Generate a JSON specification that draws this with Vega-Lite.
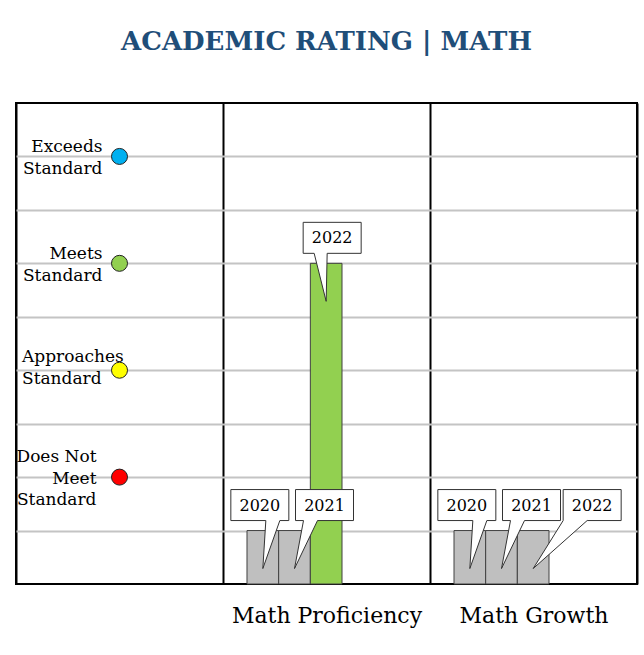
{
  "$schema": "https://vega.github.io/schema/vega-lite/v6.json",
  "width": 621,
  "height": 481,
  "autosize": "none",
  "padding": {"left": 16, "top": 103, "right": 7, "bottom": 71},
  "background": "white",
  "title": {"text": "ACADEMIC RATING | MATH", "font": "DejaVu Serif", "fontSize": 26, "fontWeight": "bold", "color": "#1f4e79", "anchor": "middle", "offset": 48},
  "config": {"view": {"stroke": "#000", "strokeWidth": 2}, "text": {"font": "DejaVu Serif"}},
  "datasets": {
    "scores": [
      {"measure": "Math Proficiency", "year": "2020", "score": 1, "rating": "Not Rated"},
      {"measure": "Math Proficiency", "year": "2021", "score": 1, "rating": "Not Rated"},
      {"measure": "Math Proficiency", "year": "2022", "score": 6, "rating": "Meets Standard"},
      {"measure": "Math Growth", "year": "2020", "score": 1, "rating": "Not Rated"},
      {"measure": "Math Growth", "year": "2021", "score": 1, "rating": "Not Rated"},
      {"measure": "Math Growth", "year": "2022", "score": 1, "rating": "Not Rated"}
    ],
    "levels": [
      {"measure": "Rating", "rating": "Exceeds Standard", "score": 8, "label": "Exceeds\nStandard"},
      {"measure": "Rating", "rating": "Meets Standard", "score": 6, "label": "Meets\nStandard"},
      {"measure": "Rating", "rating": "Approaches Standard", "score": 4, "label": "Approaches\nStandard"},
      {"measure": "Rating", "rating": "Does Not Meet Standard", "score": 2, "label": "Does Not\nMeet\nStandard"}
    ]
  },
  "encoding": {
    "x": {
      "field": "measure", "type": "nominal", "title": null,
      "scale": {"domain": ["Rating", "Math Proficiency", "Math Growth"], "paddingInner": 0, "paddingOuter": 0},
      "axis": {"orient": "bottom", "domain": false, "ticks": false, "tickSize": 0, "labelFont": "DejaVu Serif", "labelFontSize": 22, "labelColor": "#000", "labelPadding": 21, "labelAngle": 0, "labelLimit": 0, "grid": true, "tickBand": "extent", "gridColor": "#000", "gridWidth": 2, "gridOpacity": 1, "labelExpr": "datum.value == 'Rating' ? '' : datum.label"}
    },
    "y": {
      "field": "score", "type": "quantitative", "title": null,
      "scale": {"domain": [0, 9], "nice": false, "zero": true},
      "axis": {"domain": false, "ticks": false, "labels": false, "grid": true, "values": [1, 2, 3, 4, 5, 6, 7, 8], "gridColor": "#c4c4c4", "gridWidth": 2, "gridOpacity": 1}
    }
  },
  "layer": [
    {
      "data": {"name": "scores"},
      "mark": {"type": "bar", "stroke": "#404040", "strokeWidth": 1},
      "encoding": {
        "xOffset": {"field": "year", "type": "nominal", "scale": {"domain": ["2020", "2021", "2022"], "paddingInner": 0, "paddingOuter": 0, "range": [24, 119]}},
        "color": {"field": "rating", "type": "nominal", "legend": null,
          "scale": {"domain": ["Exceeds Standard", "Meets Standard", "Approaches Standard", "Does Not Meet Standard", "Not Rated"], "range": ["#00b0f0", "#92d050", "#ffff00", "#ff0000", "#bfbfbf"]}}
      }
    },
    {
      "data": {"name": "scores"},
      "mark": {"type": "point", "filled": true, "fill": "white", "stroke": "#333", "strokeWidth": 1, "opacity": 1, "size": 4},
      "encoding": {
        "xOffset": {"field": "year", "type": "nominal"},
        "shape": {
          "condition": {"test": "datum.score > 1", "value": "M-23,-41H35V-10H1L0,38L-12,-10H-23Z"},
          "field": "year", "type": "nominal", "legend": null,
          "scale": {"domain": ["2020", "2021", "2022"], "range": ["M-32,-41H26V-10H17L0,38L3,-10H-32Z", "M1,-41H59V-10H23L0,38L9,-10H1Z", "M30,-41H88V-10H54L0,38L30,-10Z"]}
        }
      }
    },
    {
      "data": {"name": "scores"},
      "transform": [{"filter": "datum.score > 1"}],
      "mark": {"type": "text", "font": "DejaVu Serif", "fontSize": 16, "color": "#000", "baseline": "middle", "dy": -25, "dx": 6},
      "encoding": {"xOffset": {"field": "year", "type": "nominal"}, "text": {"field": "year", "type": "nominal"}}
    },
    {
      "data": {"name": "scores"},
      "transform": [{"filter": "datum.score <= 1 && datum.year == '2020'"}],
      "mark": {"type": "text", "font": "DejaVu Serif", "fontSize": 16, "color": "#000", "baseline": "middle", "dy": -25, "dx": -3},
      "encoding": {"xOffset": {"field": "year", "type": "nominal"}, "text": {"field": "year", "type": "nominal"}}
    },
    {
      "data": {"name": "scores"},
      "transform": [{"filter": "datum.score <= 1 && datum.year == '2021'"}],
      "mark": {"type": "text", "font": "DejaVu Serif", "fontSize": 16, "color": "#000", "baseline": "middle", "dy": -25, "dx": 30},
      "encoding": {"xOffset": {"field": "year", "type": "nominal"}, "text": {"field": "year", "type": "nominal"}}
    },
    {
      "data": {"name": "scores"},
      "transform": [{"filter": "datum.score <= 1 && datum.year == '2022'"}],
      "mark": {"type": "text", "font": "DejaVu Serif", "fontSize": 16, "color": "#000", "baseline": "middle", "dy": -25, "dx": 59},
      "encoding": {"xOffset": {"field": "year", "type": "nominal"}, "text": {"field": "year", "type": "nominal"}}
    },
    {
      "data": {"name": "levels"},
      "transform": [{"filter": "datum.rating == 'Exceeds Standard' || datum.rating == 'Meets Standard'"}],
      "mark": {"type": "text", "font": "DejaVu Serif", "fontSize": 17, "lineBreak": "\n", "lineHeight": 21.5, "baseline": "middle", "color": "#000", "align": "right", "dx": -17, "dy": -9},
      "encoding": {"text": {"field": "label", "type": "nominal"}}
    },
    {
      "data": {"name": "levels"},
      "transform": [{"filter": "datum.rating == 'Approaches Standard'"}],
      "mark": {"type": "text", "font": "DejaVu Serif", "fontSize": 17, "lineBreak": "\n", "lineHeight": 21.5, "baseline": "middle", "color": "#000", "align": "left", "dx": -97.5, "dy": -13},
      "encoding": {"text": {"field": "label", "type": "nominal"}}
    },
    {
      "data": {"name": "levels"},
      "transform": [{"filter": "datum.rating == 'Does Not Meet Standard'"}],
      "mark": {"type": "text", "font": "DejaVu Serif", "fontSize": 17, "lineBreak": "\n", "lineHeight": 21.5, "baseline": "middle", "color": "#000", "align": "right", "dx": -23, "dy": -20},
      "encoding": {"text": {"field": "label", "type": "nominal"}}
    },
    {
      "data": {"name": "levels"},
      "mark": {"type": "point", "shape": "circle", "filled": true, "size": 256, "stroke": "#222", "strokeWidth": 1, "opacity": 1},
      "encoding": {
        "color": {"field": "rating", "type": "nominal", "legend": null}
      }
    }
  ]
}
